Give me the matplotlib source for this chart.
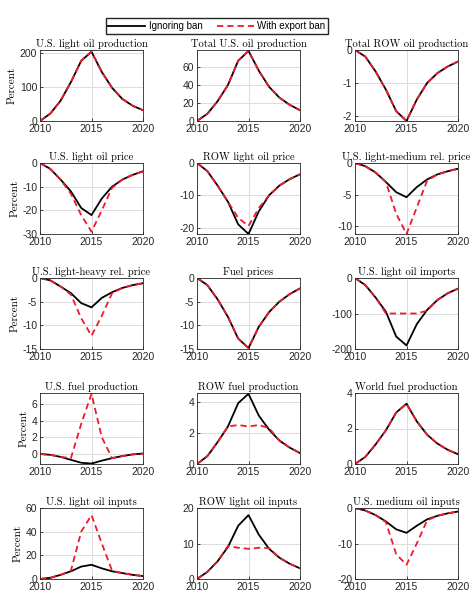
import matplotlib
matplotlib.use("Agg")
import matplotlib.pyplot as plt
from matplotlib.lines import Line2D

plt.rcParams['axes.unicode_minus'] = False
plt.rcParams['font.family'] = ['Liberation Sans', 'DejaVu Sans']

YEARS = list(range(2010, 2021))

TITLES = ["U.S. light oil production", "Total U.S. oil production", "Total ROW oil production",
          "U.S. light oil price", "ROW light oil price", "U.S. light-medium rel. price",
          "U.S. light-heavy rel. price", "Fuel prices", "U.S. light oil imports",
          "U.S. fuel production", "ROW fuel production", "World fuel production",
          "U.S. light oil inputs", "ROW light oil inputs", "U.S. medium oil inputs"]

# ignoring ban (black)
IGNORING = [
    [0, 22, 60, 115, 178, 205, 145, 98, 65, 45, 32],
    [0, 8, 22, 40, 67, 78, 56, 38, 26, 18, 12],
    [0, -0.2, -0.65, -1.2, -1.85, -2.15, -1.5, -1.0, -0.7, -0.5, -0.35],
    [0, -2.5, -7, -12, -19, -22, -15, -10, -7, -5, -3.5],
    [0, -2.5, -7, -12, -19, -22, -15, -10, -7, -5, -3.5],
    [0, -0.5, -1.5, -3, -4.6, -5.4, -3.8, -2.6, -1.8, -1.3, -0.9],
    [0, -0.5, -1.8, -3.2, -5.3, -6.2, -4.2, -3, -2.1, -1.5, -1.1],
    [0, -1.5, -4.5, -8.2, -12.8, -14.8, -10.3, -7.2, -5, -3.4, -2.2],
    [0, -20, -55, -95, -165, -190, -130, -90, -62, -43, -30],
    [0, -0.1, -0.35, -0.7, -1.05, -1.15, -0.8, -0.5, -0.25, -0.05, 0.05],
    [0, 0.5, 1.4, 2.4, 3.9, 4.5, 3.1, 2.2, 1.5, 1.05, 0.7],
    [0, 0.4, 1.1, 1.9, 2.9, 3.4, 2.4, 1.65, 1.15, 0.8, 0.55],
    [0, 1, 3.5, 6.5, 10.5, 12, 9, 6.5, 5, 3.5, 2.5],
    [0, 2, 5, 9, 15, 18, 12.5, 8.5, 6, 4.3, 3],
    [0, -0.7, -2, -3.8, -6, -7, -5, -3.2, -2.2, -1.5, -1],
]

# with export ban (red dashed)
WITH_BAN = [
    [0, 22, 60, 115, 178, 205, 145, 98, 65, 45, 32],
    [0, 8, 22, 40, 67, 78, 56, 38, 26, 18, 12],
    [0, -0.2, -0.65, -1.2, -1.85, -2.15, -1.5, -1.0, -0.7, -0.5, -0.35],
    [0, -2.5, -7, -13, -22, -29, -20, -10.5, -7, -5, -3.5],
    [0, -2.5, -7, -12, -17, -19.5, -14, -10, -7, -5, -3.5],
    [0, -0.5, -1.5, -3, -8, -11.2, -7, -2.8, -1.8, -1.3, -0.9],
    [0, -0.5, -1.8, -3.5, -8.5, -12.2, -8, -3.2, -2.1, -1.5, -1.1],
    [0, -1.5, -4.5, -8.2, -12.8, -14.8, -10.3, -7.2, -5, -3.4, -2.2],
    [0, -20, -55, -100, -100, -100, -100, -92, -62, -43, -30],
    [0, -0.1, -0.35, -0.5, 3.6, 7.2, 2.0, -0.5, -0.25, -0.05, 0.05],
    [0, 0.5, 1.4, 2.4, 2.5, 2.4, 2.5, 2.3, 1.5, 1.05, 0.7],
    [0, 0.4, 1.1, 1.9, 2.9, 3.4, 2.4, 1.65, 1.15, 0.8, 0.55],
    [0, 1, 3.5, 7, 40, 54, 30, 7, 5, 3.5, 2.5],
    [0, 2, 5, 9.3, 8.8, 8.5, 8.8, 8.7, 6, 4.3, 3],
    [0, -0.7, -2, -4, -13, -16, -10, -3.5, -2.2, -1.5, -1],
]

YLIMS = [(0, 210), (0, 79), (-2.15, 0), (-30, 0), (-22, 0), (-11.2, 0), (-15, 0), (-15, 0),
         (-200, 0), (-1.2, 7.3), (0, 4.55), (0, 4), (0, 60), (0, 20), (-20, 0)]
YTICKS = [[0, 100, 200], [0, 20, 40, 60], [-2, -1, 0], [-30, -20, -10, 0], [-20, -10, 0],
          [-10, -5, 0], [-15, -10, -5, 0], [-15, -10, -5, 0], [-200, -100, 0], [0, 2, 4, 6],
          [0, 2, 4], [0, 2, 4], [0, 20, 40, 60], [0, 10, 20], [-20, -10, 0]]

W, H = 474, 603
COL_LEFT = [40, 197, 355]
ROW_TOP = [50, 163, 278, 393, 508]
AX_W, AX_H = 103, 71
RED = '#f0192b'
DASH = (0, (3.5, 2.2))

fig = plt.figure(figsize=(W / 100, H / 100), dpi=100)

for i in range(15):
    r, c = divmod(i, 3)
    ax = fig.add_axes([COL_LEFT[c] / W, 1 - (ROW_TOP[r] + AX_H) / H, AX_W / W, AX_H / H])
    ax.plot(YEARS, IGNORING[i], color='black', lw=1.3)
    ax.plot(YEARS, WITH_BAN[i], color=RED, lw=1.3, ls=DASH)
    ax.set_xlim(2010, 2020)
    ax.set_ylim(*YLIMS[i])
    ax.set_xticks([2010, 2015, 2020])
    ax.set_yticks(YTICKS[i])
    ax.grid(True, color='#dcdcdc', lw=0.7)
    ax.set_axisbelow(True)
    ax.tick_params(direction='in', length=2, width=0.6, labelsize=7.5, colors='#262626', pad=2)
    for sp in ax.spines.values():
        sp.set_color('#262626')
        sp.set_linewidth(0.6)
    ax.set_title(TITLES[i], family='cmr10', fontsize=7.6, pad=2)
    if c == 0:
        ax.set_ylabel("Percent", family='cmr10', fontsize=8, labelpad=2)

handles = [Line2D([], [], color='black', lw=1.3),
           Line2D([], [], color=RED, lw=1.3, ls=DASH)]
fig.legend(handles, ["Ignoring ban", "With export ban"], loc='center',
           bbox_to_anchor=(217 / W, 1 - 26 / H), ncol=2, fontsize=7, frameon=True,
           fancybox=False, edgecolor='#262626', handlelength=3.8, columnspacing=1.5,
           handletextpad=0.35, borderpad=0.3, framealpha=1)

fig.savefig("out.png", dpi=100)
